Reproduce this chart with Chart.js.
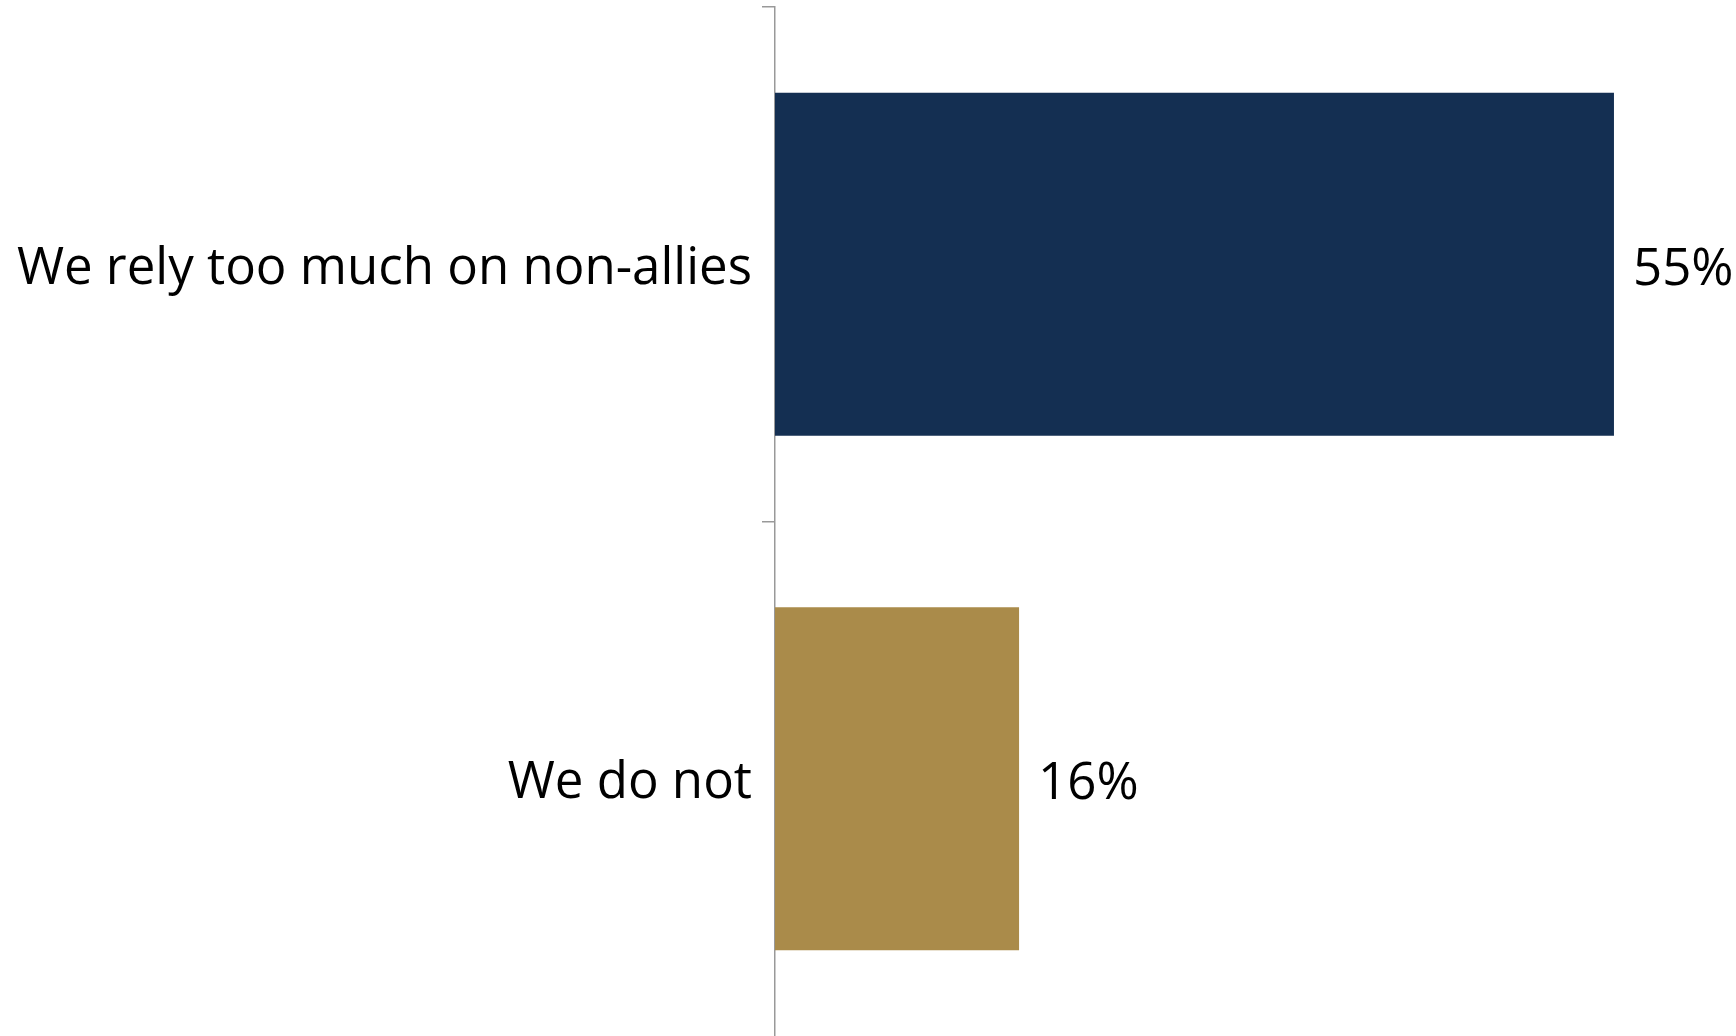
<!DOCTYPE html>
<html>
<head>
<meta charset="utf-8">
<script src="https://cdn.jsdelivr.net/npm/chart.js@4"></script>
<style>
  html, body { margin: 0; padding: 0; background: #fff; }
  #wrap { width: 1736px; height: 1036px; }
</style>
</head>
<body>
<div id="wrap"><canvas id="relyChart"></canvas></div>
<script>
// Chart data
const categories = ['We rely too much on non-allies', 'We do not'];
const values = [55, 16];
const barColors = ['#142f52', '#aa8b4a'];

const FONT = '"Open Sans", "Noto Sans", sans-serif';

// draws the "55%" labels at the end of each bar
const valueLabels = {
    id: 'valueLabels',
    afterDatasetsDraw(chart) {
        const c = chart.ctx;
        const meta = chart.getDatasetMeta(0);
        c.save();
        c.font = '51px ' + FONT;
        c.fillStyle = '#000';
        c.textBaseline = 'middle';
        meta.data.forEach((bar, i) => {
            c.fillText(values[i] + '%', bar.x + 19, bar.y + 6);
        });
        c.restore();
    }
};

const ctx = document.getElementById('relyChart').getContext('2d');
new Chart(ctx, {
    type: 'bar',
    data: {
        labels: categories,
        datasets: [
            {
                data: values,
                backgroundColor: barColors,
                barPercentage: 0.667,
                categoryPercentage: 1
            }
        ]
    },
    options: {
        indexAxis: 'y',
        responsive: true,
        maintainAspectRatio: false,
        animation: false,
        layout: {
            padding: { top: 7, right: 0, bottom: 0, left: 0 }
        },
        plugins: {
            legend: { display: false },
            tooltip: { enabled: false }
        },
        scales: {
            x: {
                display: false,
                min: 0,
                max: 63
            },
            y: {
                afterFit(scale) {
                    scale.width = 775;
                    scale.paddingTop = 0;
                    scale.paddingBottom = 0;
                },
                border: { color: '#999999', width: 1.5 },
                grid: {
                    offset: true,
                    drawOnChartArea: false,
                    // the closing tick at the bottom edge is not shown
                    color: (c) => c.type === 'tick' ? '#999999' : 'rgba(0,0,0,0)',
                    lineWidth: 1.5,
                    tickLength: 13
                },
                ticks: {
                    color: '#000',
                    padding: 10,
                    labelOffset: 5,
                    font: { family: FONT, size: 51 }
                }
            }
        }
    },
    plugins: [valueLabels]
});
</script>
</body>
</html>
